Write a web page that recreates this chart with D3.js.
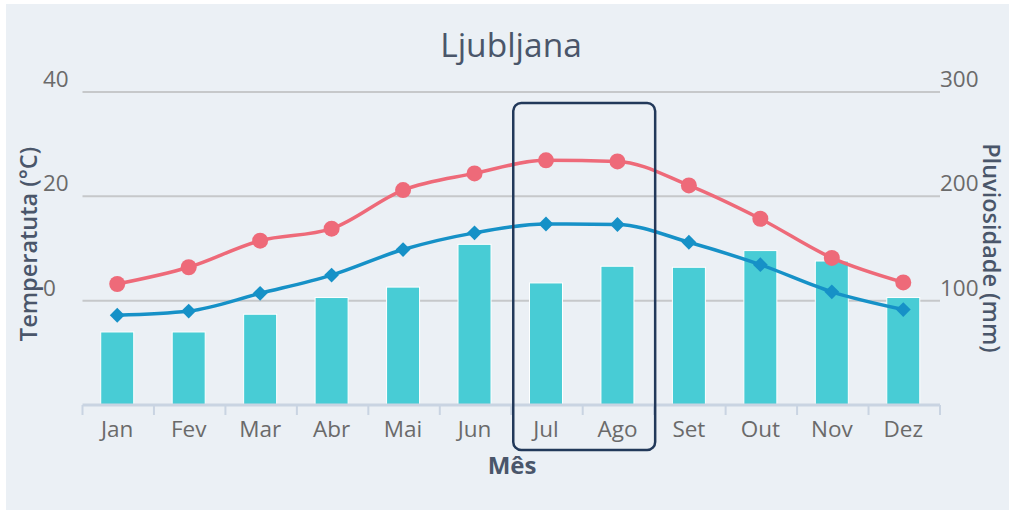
<!DOCTYPE html>
<html>
<head>
<meta charset="utf-8">
<script src="https://cdn.jsdelivr.net/npm/d3@7"></script>
<style>
  body { margin:0; background:#fff; }
  text { font-family:"Open Sans", sans-serif; }
  .bar { fill:#48ccd5; stroke:#fff; stroke-width:1; }
  .t-max { fill:none; stroke:#ee6a79; stroke-width:3.5; }
  .t-min { fill:none; stroke:#1691c7; stroke-width:3.5; }
</style>
</head>
<body>
<div id="chart"></div>
<script>
var months = ["Jan","Fev","Mar","Abr","Mai","Jun","Jul","Ago","Set","Out","Nov","Dez"];
var rain = [70, 70, 87, 103, 113, 154, 117, 133, 132, 148, 138, 103];
var tmax = [3.2, 6.4, 11.5, 13.8, 21.2, 24.4, 26.9, 26.7, 22.1, 15.7, 8.2, 3.5];
var tmin = [-2.8, -2.0, 1.4, 4.9, 9.8, 13.0, 14.7, 14.6, 11.2, 6.9, 1.7, -1.7];
var tempTicks = [0, 20, 40];
var rainTicks = [100, 200, 300];
var highlight = ["Jul","Ago"];

var W = 1009, H = 510;
var plot = {left:82.5, right:940, top:92, bottom:405};

var svg = d3.select("#chart").append("svg")
  .attr("width", W).attr("height", H);

svg.append("rect").attr("x", 6).attr("y", 4)
  .attr("width", W - 6).attr("height", H - 4)
  .attr("fill", "#ebf0f5");

var x = d3.scaleBand().domain(months).range([plot.left, plot.right]);
var yT = d3.scaleLinear().domain([-20, 40]).range([plot.bottom, plot.top]);
var yR = d3.scaleLinear().domain([0, 300]).range([plot.bottom, plot.top]);
function cx(i){ return x(months[i]) + x.bandwidth()/2 - 1 }

// gridlines
svg.append("g").selectAll("line")
  .data(tempTicks)
  .enter().append("line")
  .attr("x1", plot.left).attr("x2", plot.right)
  .attr("y1", function(d){ return yT(d) }).attr("y2", function(d){ return yT(d) })
  .attr("stroke", "#c6c8ca").attr("stroke-width", 2);

// left labels
svg.append("g").selectAll("text")
  .data(tempTicks)
  .enter().append("text")
  .attr("x", 43).attr("y", function(d){ return yT(d) - 5 })
  .attr("font-size", 22.5).attr("fill", "#6a6a6a")
  .text(function(d){ return d });

// right labels
svg.append("g").selectAll("text")
  .data(rainTicks)
  .enter().append("text")
  .attr("x", 940).attr("y", function(d){ return yR(d) - 5 })
  .attr("font-size", 22.5).attr("fill", "#6a6a6a")
  .text(function(d){ return d });

// bars
var bw = 33;
svg.append("g").selectAll("rect")
  .data(rain)
  .enter().append("rect")
  .attr("class", "bar")
  .attr("x", function(d, i){ return cx(i) - bw/2 })
  .attr("y", function(d){ return yR(d) })
  .attr("width", bw)
  .attr("height", function(d){ return yR(0) - yR(d) });

// x axis
svg.append("line").attr("x1", plot.left).attr("x2", plot.right)
  .attr("y1", plot.bottom).attr("y2", plot.bottom)
  .attr("stroke", "#c9d4e2").attr("stroke-width", 3);

var edges = months.map(function(m){ return x(m) }).concat([plot.right]);
svg.append("g").selectAll("line")
  .data(edges)
  .enter().append("line")
  .attr("x1", function(d){ return d }).attr("x2", function(d){ return d })
  .attr("y1", plot.bottom).attr("y2", plot.bottom + 10)
  .attr("stroke", "#c9d4e2").attr("stroke-width", 2);

svg.append("g").selectAll("text")
  .data(months)
  .enter().append("text")
  .attr("x", function(d, i){ return cx(i) })
  .attr("y", 437)
  .attr("text-anchor", "middle")
  .attr("font-size", 22.5).attr("fill", "#6a6a6a")
  .text(function(d){ return d });

// lines
var tline = d3.line()
  .x(function(d, i){ return cx(i) })
  .y(function(d){ return yT(d) })
  .curve(d3.curveMonotoneX);

svg.append("path").datum(tmax).attr("class", "t-max").attr("d", tline);
svg.append("path").datum(tmin).attr("class", "t-min").attr("d", tline);

svg.append("g").selectAll("circle")
  .data(tmax)
  .enter().append("circle")
  .attr("cx", function(d, i){ return cx(i) })
  .attr("cy", function(d){ return yT(d) })
  .attr("r", 8)
  .attr("fill", "#ee6a79");

var diamond = d3.symbol().type(d3.symbolDiamond2).size(140);
svg.append("g").selectAll("path")
  .data(tmin)
  .enter().append("path")
  .attr("d", diamond)
  .attr("transform", function(d, i){ return "translate(" + cx(i) + "," + yT(d) + ")" })
  .attr("fill", "#1691c7");

// highlight box
var hx0 = x(highlight[0]) + 2, hx1 = x(highlight[1]) + x.bandwidth() + 1;
svg.append("rect")
  .attr("x", hx0).attr("y", 103)
  .attr("width", hx1 - hx0).attr("height", 347)
  .attr("rx", 8)
  .attr("fill", "none").attr("stroke", "#22395a").attr("stroke-width", 2.5);

// titles
svg.append("text").attr("x", 511).attr("y", 57)
  .attr("text-anchor", "middle").attr("font-size", 33.5)
  .attr("fill", "#4a566a").text("Ljubljana");

svg.append("text").attr("x", 512).attr("y", 474)
  .attr("text-anchor", "middle").attr("font-size", 24).attr("font-weight", 700)
  .attr("fill", "#4a566a").text("Mês");

svg.append("text")
  .attr("transform", "translate(37,244) rotate(-90)")
  .attr("text-anchor", "middle").attr("font-size", 23.5).attr("font-weight", 600)
  .attr("fill", "#4a566a").text("Temperatuta (°C)");

svg.append("text")
  .attr("transform", "translate(983,248) rotate(90)")
  .attr("text-anchor", "middle").attr("font-size", 23.5).attr("font-weight", 600)
  .attr("fill", "#4a566a").text("Pluviosidade (mm)");
</script>
</body>
</html>
